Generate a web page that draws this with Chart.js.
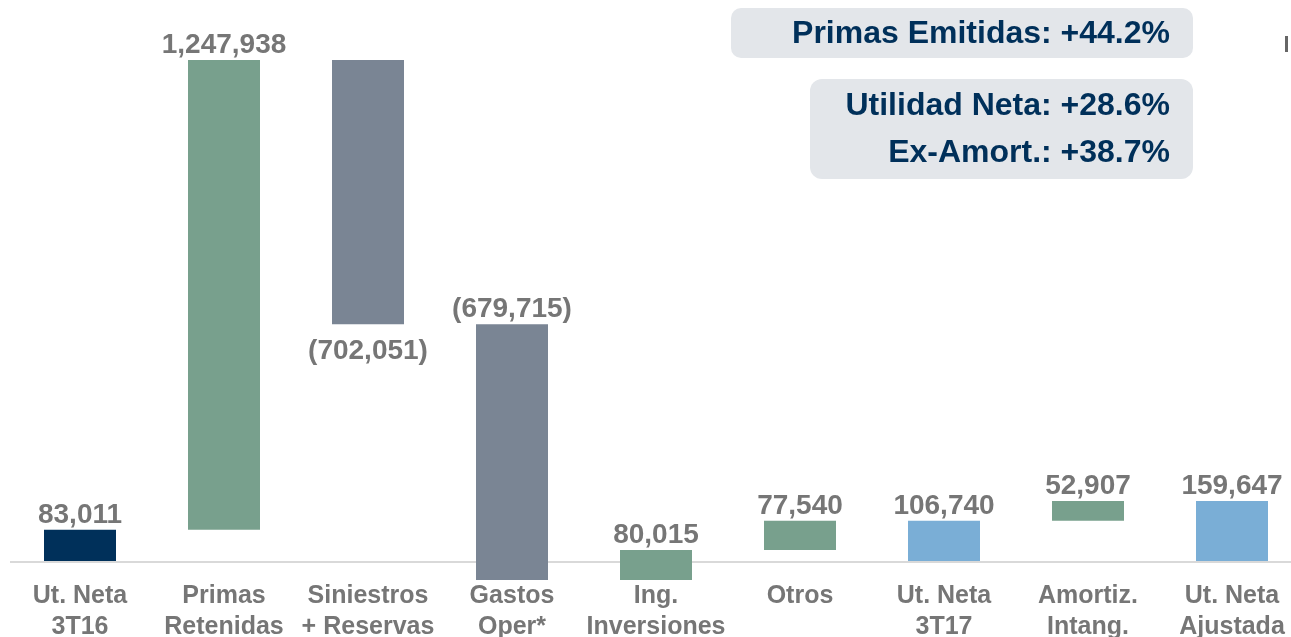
<!DOCTYPE html>
<html>
<head>
<meta charset="utf-8">
<script src="https://cdn.jsdelivr.net/npm/chart.js@4.4.0/dist/chart.umd.min.js"></script>
<style>
  html, body { margin: 0; padding: 0; background: #fff; overflow: hidden; }
  #wrap { position: relative; width: 1304px; height: 637px; }
</style>
</head>
<body>
<div id="wrap"><canvas id="chart"></canvas></div>
<script>
const categories = [
  ["Ut. Neta", "3T16"], ["Primas", "Retenidas"], ["Siniestros", "+ Reservas"],
  ["Gastos", "Oper*"], ["Ing.", "Inversiones"], ["Otros"],
  ["Ut. Neta", "3T17"], ["Amortiz.", "Intang."], ["Ut. Neta", "Ajustada"]
];
const values = [83011, 1247938, -702051, -679715, 80015, 77540, 106740, 52907, 159647];
// totals start at zero, the others float on the running sum
const isTotal = [true, false, false, false, false, false, true, false, true];
const valueLabels = ["83,011", "1,247,938", "(702,051)", "(679,715)", "80,015", "77,540", "106,740", "52,907", "159,647"];
const noteTop = ["Primas Emitidas: +44.2%"];
const noteBottom = ["Utilidad Neta: +28.6%", "Ex-Amort.: +38.7%"];

const NAVY = "#00305a";
const GREEN = "#78a08d";
const GREY = "#7a8594";
const LIGHT = "#7aaed6";
const LABEL = "#767676";
const FONT = "'Liberation Sans', Arial, sans-serif";

let run = 0;
const floating = values.map((v, i) => {
  if (isTotal[i]) { run = v; return [0, v]; }
  const from = run;
  run += v;
  return [from, run];
});
const colors = values.map((v, i) => {
  if (i === 0) return NAVY;
  if (isTotal[i]) return LIGHT;
  return v < 0 ? GREY : GREEN;
});

const baseLine = {
  id: "baseLine",
  beforeDatasetsDraw(chart) {
    const { ctx, scales } = chart;
    const y = scales.y.getPixelForValue(0);
    ctx.save();
    ctx.strokeStyle = "#d9d9d9";
    ctx.lineWidth = 2;
    ctx.beginPath();
    ctx.moveTo(10, y + 1);
    ctx.lineTo(chart.width, y + 1);
    ctx.stroke();
    ctx.restore();
  }
};

const barLabels = {
  id: "barLabels",
  afterDatasetsDraw(chart) {
    const { ctx } = chart;
    const meta = chart.getDatasetMeta(0);
    ctx.save();
    ctx.font = "bold 28px " + FONT;
    ctx.fillStyle = LABEL;
    ctx.textAlign = "center";
    meta.data.forEach((bar, i) => {
      const top = Math.min(bar.y, bar.base);
      const bottom = Math.max(bar.y, bar.base);
      if (i === 2) {
        ctx.textBaseline = "top";
        ctx.fillText(valueLabels[i], bar.x, bottom + 13);
      } else {
        ctx.textBaseline = "alphabetic";
        ctx.fillText(valueLabels[i], bar.x, top - 7);
      }
    });
    ctx.restore();
  }
};

function box(ctx, x, y, w, h, r) {
  ctx.beginPath();
  ctx.roundRect(x, y, w, h, r);
  ctx.fill();
}

const notes = {
  id: "notes",
  afterDraw(chart) {
    const { ctx } = chart;
    ctx.save();
    ctx.fillStyle = "#e3e6ea";
    box(ctx, 731, 8, 462, 50, 10);
    box(ctx, 810, 79, 383, 100, 12);
    ctx.fillStyle = NAVY;
    ctx.font = "bold 32px " + FONT;
    ctx.textAlign = "right";
    ctx.textBaseline = "middle";
    ctx.fillText(noteTop[0], 1170, 34);
    noteBottom.forEach((t, i) => ctx.fillText(t, 1170, 106 + i * 47));
    ctx.fillStyle = "#666";
    ctx.fillRect(1285, 36, 3, 16);
    ctx.restore();
  }
};

new Chart(document.getElementById("chart"), {
  type: "bar",
  data: {
    labels: categories,
    datasets: [{
      data: floating,
      backgroundColor: colors,
      barPercentage: 0.5,
      categoryPercentage: 1,
      borderSkipped: false,
      clip: false
    }]
  },
  options: {
    responsive: true,
    maintainAspectRatio: false,
    animation: false,
    layout: { padding: { left: 8, right: 0, top: 0, bottom: 0 } },
    plugins: { legend: { display: false }, tooltip: { enabled: false } },
    scales: {
      x: {
        grid: { display: false, drawTicks: false },
        border: { display: false },
        afterFit(scale) { scale.height = 66; },
        ticks: {
          color: LABEL,
          padding: 10,
          maxRotation: 0,
          minRotation: 0,
          autoSkip: false,
          font: { family: FONT, size: 25, weight: "bold", lineHeight: 1.22 }
        }
      },
      y: {
        display: false,
        min: -26600,
        max: 1490350
      }
    }
  },
  plugins: [baseLine, barLabels, notes]
});
</script>
</body>
</html>
